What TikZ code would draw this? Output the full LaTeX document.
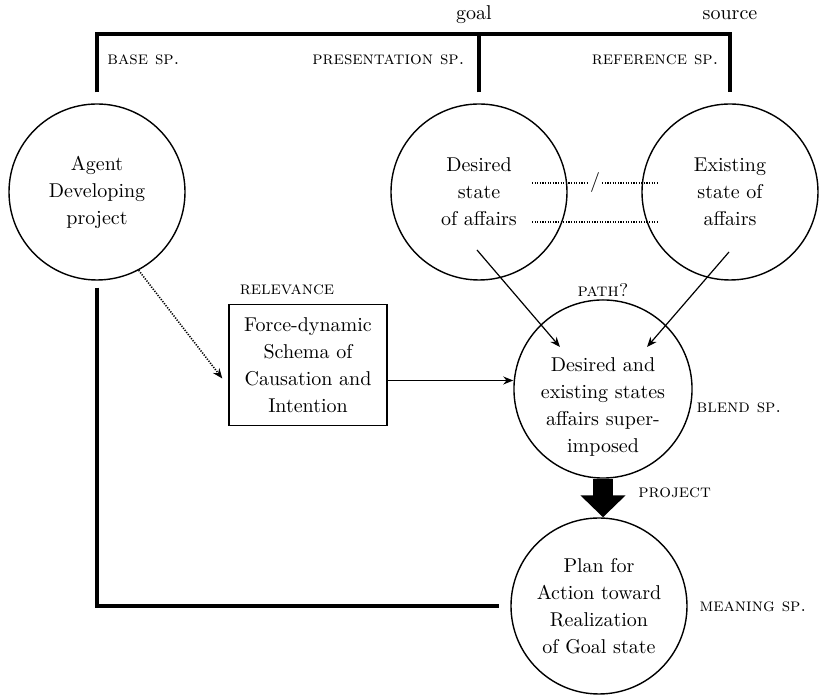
\documentclass[tikz,border=0pt]{standalone}
\usepackage{fontspec}
\usetikzlibrary{positioning,arrows.meta,calc}

\begin{document}
\begin{tikzpicture}[
  x=0.5pt,y=0.5pt,
  >={Stealth[length=5pt,width=4pt]},
  spc/.style={circle,draw,line width=0.7pt,minimum size=88pt,inner sep=0pt,align=center,font=\fontsize{10}{13.5}\selectfont},
  frame/.style={draw,line width=0.7pt,minimum width=79pt,minimum height=60.5pt,inner sep=0pt,align=center,font=\fontsize{10}{13.5}\selectfont},
  tag/.style={font=\fontsize{9.2}{11}\selectfont\scshape,inner sep=0pt},
  word/.style={font=\fontsize{10}{12}\selectfont,inner sep=0pt},
  bar/.style={line width=1.8pt},
  link/.style={semithick,->},
  dots/.style={line width=0.8pt,dash pattern=on 0.6pt off 0.7pt}
]
\useasboundingbox (0,0) rectangle (821,696);

% --- input spaces ---
\node[spc] (agent)    at (97,504)  {Agent\\Developing\\project};
\node[spc] (desired)  at (479,504) {Desired\\state\\of affairs};
\node[spc] (existing) at (730,504) {Existing\\state of\\affairs};

% --- bracket over the spaces ---
\draw[bar] ([yshift=5.5pt]agent.north) -- ++(0,58) -| ([yshift=5.5pt]existing.north);
\draw[bar] ([yshift=5.5pt]desired.north) -- ++(0,58);
\node[word] (goal)   at (474,681) {goal};
\node[word] (source) at (730,681) {source};
\node[tag,anchor=west] (basesp) at (107,636) {base sp.};
\node[tag,anchor=east] (presp)  at (465,636) {presentation sp.};
\node[tag,anchor=east] (refsp)  at (719,636) {reference sp.};

% --- dotted links between desired and existing ---
\draw[dots] ($(desired)+(53,9)$) -- node[fill=white,inner sep=1pt,font=\fontsize{10}{12}\selectfont] (slash) {/} ($(existing)+(-72,9)$);
\draw[dots] ($(desired)+(53,-30)$) -- ($(existing)+(-72,-30)$);

% --- schema box and blend ---
\node[frame] (force) at (308,331) {Force-dynamic\\Schema of\\Causation and\\Intention};
\node[tag] (relevance) at (287,406) {relevance};
\node[spc,text height=64pt,text depth=-4pt] (blend) at (603,307) {Desired and\\existing states\\affairs super-\\imposed};
\node[tag] (path) at (603,406) {path?};
\node[tag] (blendsp) at (739,288) {blend sp.};

\draw[dots,->] (agent.-62) -- ([xshift=-3pt,yshift=-6.75pt]force.west);
\draw[link] ([yshift=-7.75pt]force.east) -- ([yshift=-7.75pt]force.east -| blend.west);
\draw[link] ($(desired)+(-2,-58)$) -- ($(blend)+(-43,42)$);
\draw[link] ($(existing)+(-1,-60)$) -- ($(blend)+(44,42)$);

% --- projection to meaning space ---
\node[spc] (plan) at (599,90) {Plan for\\Action toward\\Realization\\of Goal state};
\draw[line width=10pt,-{Triangle[length=11pt,width=22pt]}] (blend.south) -- (blend.south |- plan.north);
\node[tag,anchor=west] (projectlbl) at (638,203) {project};
\node[tag] (meaningsp) at (753,89) {meaning sp.};

\draw[bar] ([yshift=-3.5pt]agent.south) |- ([xshift=-5.5pt]plan.west);
\end{tikzpicture}
\end{document}
